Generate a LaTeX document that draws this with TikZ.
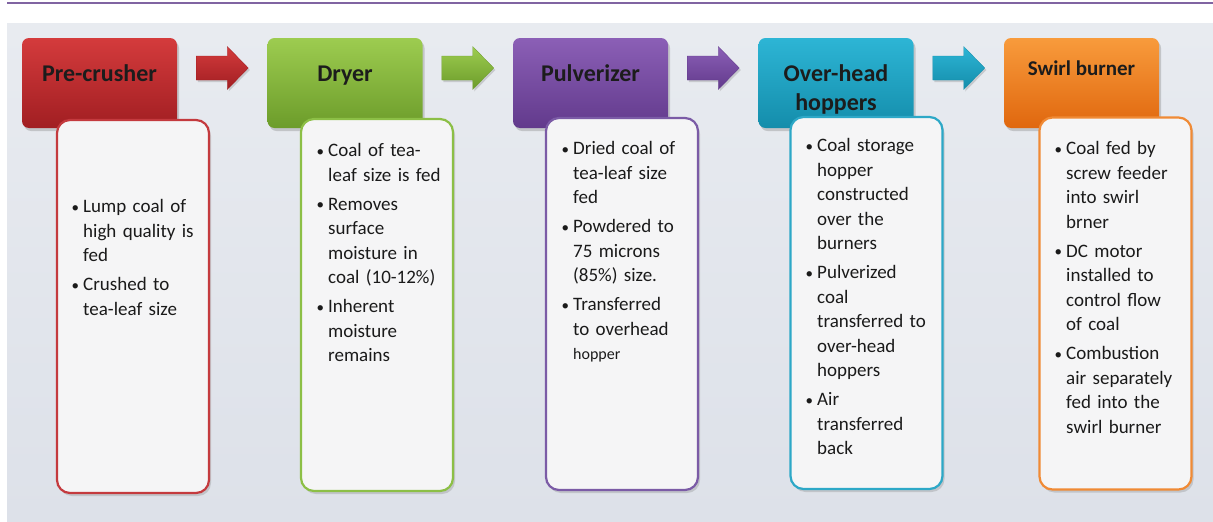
\documentclass[tikz,border=0pt]{standalone}
\usepackage{fontspec}
\setmainfont{Carlito}
\usetikzlibrary{shadows,calc}
\definecolor{bgtop}{HTML}{E8EBF0}
\definecolor{bgbot}{HTML}{DDE1E9}
\definecolor{topline}{HTML}{8064A2}
\definecolor{redT}{HTML}{D43B3C}\definecolor{redB}{HTML}{A11E22}\definecolor{redL}{HTML}{C43A3E}
\definecolor{grnT}{HTML}{9DCC50}\definecolor{grnB}{HTML}{6C9C2A}\definecolor{grnL}{HTML}{8CBF46}
\definecolor{purT}{HTML}{8B5FB6}\definecolor{purB}{HTML}{623A8C}\definecolor{purL}{HTML}{7B5BA6}
\definecolor{cyaT}{HTML}{2DB5D5}\definecolor{cyaB}{HTML}{148DAB}\definecolor{cyaL}{HTML}{2DA8C7}
\definecolor{orgT}{HTML}{F89B3C}\definecolor{orgB}{HTML}{E0670E}\definecolor{orgL}{HTML}{F08A35}
\definecolor{bodyfill}{HTML}{F5F5F6}
\definecolor{titlecol}{HTML}{1C1C1C}
\definecolor{txtcol}{HTML}{1A1A1A}
\newcommand\bodyfont{\fontsize{19}{24.5}\selectfont\spaceskip=0.15em plus 0.05em minus 0.02em\relax}
\newcommand\bul{\makebox[11pt][l]{\hspace{-0.5pt}{\fontsize{15}{15}\selectfont\raisebox{0.6pt}{\textbullet}}}}
\newcommand\firstitm{\noindent\hangindent=11pt\hangafter=1\rule{0pt}{16pt}\bul}
\newcommand\itm{\par\vspace{4.5pt}\noindent\hangindent=11pt\hangafter=1\bul}
\newcommand\blockarrow[4]{%
  \shade[top color=#3, bottom color=#4, draw=#4, line width=0.3pt,
    drop shadow={shadow xshift=1.5pt, shadow yshift=-2pt, opacity=0.3}]
    ($(#1.east)!0.5!(#2.west)+(-26,-27)$) -- ++(31,0) -- ++(0,-9.5) -- ++(21,21.5)
    -- ++(-21,21.5) -- ++(0,-9.5) -- ++(-31,0) -- cycle;}
\begin{document}
\begin{tikzpicture}[x=1pt,y=-1pt,
  hdr/.style={rounded corners=7pt, minimum width=155pt, minimum height=90pt, inner sep=0pt,
    drop shadow={shadow xshift=2pt, shadow yshift=-3pt, opacity=0.35}},
  bodybox/.style={rounded corners=13pt, minimum width=152pt, minimum height=372pt, inner sep=0pt,
    line width=2.2pt, fill=bodyfill,
    drop shadow={shadow xshift=2pt, shadow yshift=-3pt, opacity=0.3}},
  hdrtitle/.style={anchor=base, inner sep=0pt, text=titlecol, font=\bfseries\fontsize{24}{28}\selectfont},
  bodytext/.style={anchor=north west, inner sep=0pt, text width=150pt, align=left, text=txtcol, font=\bodyfont}]
\useasboundingbox (0,0) rectangle (1213,522);
\fill[white] (0,0) rectangle (1213,522);
\shade[top color=bgtop, bottom color=bgbot] (7,23) rectangle (1213,521);
\draw[topline, line width=1.4pt] (7,3) -- (1213,3);
% headers
\node[hdr, top color=redT, bottom color=redB] (pre) at (99.5,83) {};
\node[hdr, top color=grnT, bottom color=grnB] (dry) at (345,83) {};
\node[hdr, top color=purT, bottom color=purB] (pul) at (590.5,83) {};
\node[hdr, top color=cyaT, bottom color=cyaB] (ovh) at (836,83) {};
\node[hdr, top color=orgT, bottom color=orgB] (swb) at (1081.5,83) {};
% titles
\node[hdrtitle] (preT) at ($(pre.center)+(0,-2)$) {Pre-crusher};
\node[hdrtitle] (dryT) at ($(dry.center)+(0,-2)$) {Dryer};
\node[hdrtitle] (pulT) at ($(pul.center)+(0,-2)$) {Pulverizer};
\node[hdrtitle] (ovhT1) at ($(ovh.center)+(0,-1.5)$) {Over-head};
\node[hdrtitle] (ovhT2) at ($(ovh.center)+(0,27.5)$) {hoppers};
\node[hdrtitle, font=\bfseries\fontsize{21}{25}\selectfont] (swbT) at ($(swb.center)+(0,-8)$) {Swirl burner};
% arrows
\blockarrow{pre}{dry}{redT}{redB}
\blockarrow{dry}{pul}{grnT}{grnB}
\blockarrow{pul}{ovh}{purT}{purB}
\blockarrow{ovh}{swb}{cyaT}{cyaB}
% bodies
\node[bodybox, draw=redL, minimum height=373pt] (b1) at (133,306.5) {};
\node[bodybox, draw=grnL] (b2) at (377,305) {};
\node[bodybox, draw=purL] (b3) at (622,304) {};
\node[bodybox, draw=cyaL] (b4) at (866.5,303) {};
\node[bodybox, draw=orgL] (b5) at (1115.5,303.5) {};
% body texts
\node[bodytext] (t1) at (72,196.5) {\firstitm Lump coal of\newline high quality is\newline fed\itm Crushed to\newline tea-leaf size\par};
\node[bodytext] (t2) at (317,140.5) {\firstitm Coal of tea-\newline leaf size is fed\itm Removes\newline surface\newline moisture in\newline coal (10-12\%)\itm Inherent\newline moisture\newline remains\par};
\node[bodytext] (t3) at (562,138.5) {\firstitm Dried coal of\newline tea-leaf size\newline fed\itm Powdered to\newline 75 microns\newline (85\%) size.\itm Transferred\newline to overhead\newline {\fontsize{16}{24.5}\selectfont hopper}\par};
\node[bodytext] (t4) at (806,135.5) {\firstitm Coal storage\newline hopper\newline constructed\newline over the\newline burners\itm Pulverized\newline coal\newline transferred to\newline over-head\newline hoppers\itm Air\newline transferred\newline back\par};
\node[bodytext] (t5) at (1055,138.5) {\firstitm Coal fed by\newline screw feeder\newline into swirl\newline brner\itm DC motor\newline installed to\newline control flow\newline of coal\itm Combustion\newline air separately\newline fed into the\newline swirl burner\par};
\end{tikzpicture}
\end{document}
